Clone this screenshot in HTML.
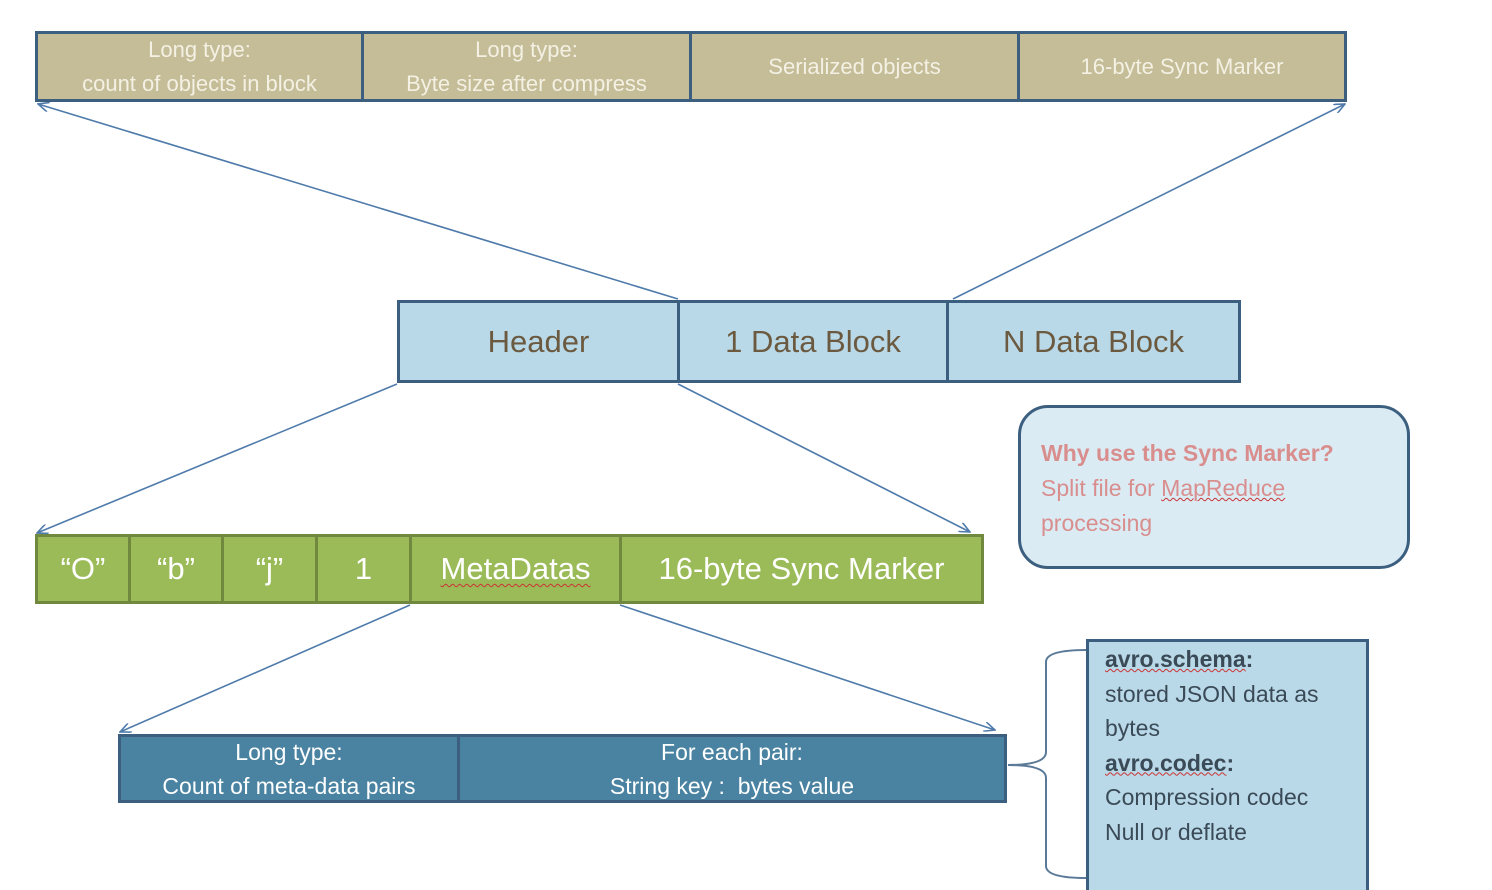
<!DOCTYPE html>
<html style="overflow:hidden;width:1492px;height:890px"><head><meta charset="utf-8"><style>
body{margin:0;width:1492px;height:890px;background:#fff;overflow:hidden;position:relative;font-family:"Liberation Sans",sans-serif}
.b{position:absolute;box-sizing:border-box;display:flex;align-items:center;justify-content:center;text-align:center}
.t{background:#c4bd97;border:3px solid #3c5f80;color:#f4f1e4;font-size:22px;line-height:34px}
.m{background:#b9d9e8;border:3px solid #3c5f80;color:#6b5a40;font-size:31px}
.g{background:#9bbb59;border:3px solid #71893f;color:#fff;font-size:31px}
.d{background:#4a83a2;border:3px solid #3c5f80;color:#fff;font-size:23px;line-height:34px}
</style></head><body>
<div class="b t" style="left:35px;top:31px;width:329px;height:71px">Long type:<br>count of objects in block</div>
<div class="b t" style="left:361px;top:31px;width:331px;height:71px">Long type:<br>Byte size after compress</div>
<div class="b t" style="left:689px;top:31px;width:331px;height:71px">Serialized objects</div>
<div class="b t" style="left:1017px;top:31px;width:330px;height:71px">16-byte Sync Marker</div>

<div class="b m" style="left:397px;top:300px;width:283px;height:83px">Header</div>
<div class="b m" style="left:677px;top:300px;width:272px;height:83px">1 Data Block</div>
<div class="b m" style="left:946px;top:300px;width:295px;height:83px">N Data Block</div>

<div class="b g" style="left:35px;top:534px;width:96px;height:70px">“O”</div>
<div class="b g" style="left:128px;top:534px;width:96px;height:70px">“b”</div>
<div class="b g" style="left:221px;top:534px;width:97px;height:70px">“j”</div>
<div class="b g" style="left:315px;top:534px;width:97px;height:70px">1</div>
<div class="b g" style="left:409px;top:534px;width:213px;height:70px"><span style="text-decoration:underline wavy #c33;text-underline-offset:4px;text-decoration-thickness:1px">MetaDatas</span></div>
<div class="b g" style="left:619px;top:534px;width:365px;height:70px">16-byte Sync Marker</div>

<div class="b d" style="left:118px;top:734px;width:342px;height:69px">Long type:<br>Count of meta-data pairs</div>
<div class="b d" style="left:457px;top:734px;width:550px;height:69px">For each pair:<br>String key :&nbsp; bytes value</div>

<div style="position:absolute;left:1018px;top:405px;width:392px;height:164px;box-sizing:border-box;border:3px solid #3c5f80;border-radius:30px;background:#dbebf4;padding:28px 0 0 20px;color:#d98e8e;font-size:23px;line-height:35px">
<b>Why use the Sync Marker?</b><br>Split file for <span style="text-decoration:underline wavy #c33;text-decoration-thickness:1px">MapReduce</span><br>processing</div>

<div style="position:absolute;left:1086px;top:639px;width:283px;height:251px;box-sizing:border-box;border:3px solid #3c5f80;border-bottom:none;background:#b9d9e8;padding:0 0 0 16px;color:#3b4a57;font-size:23px;line-height:34.5px;overflow:hidden">
<b><span style="text-decoration:underline wavy #c33;text-decoration-thickness:1px">avro.schema</span>:</b><br>stored JSON data as<br>bytes<br><b><span style="text-decoration:underline wavy #c33;text-decoration-thickness:1px">avro.codec</span>:</b><br>Compression codec<br>Null or deflate</div>

<svg width="1492" height="890" style="position:absolute;left:0;top:0" fill="none" stroke="#4f7bab" stroke-width="1.6">
<defs><marker id="a" markerWidth="12" markerHeight="10" refX="11" refY="5" orient="auto" markerUnits="userSpaceOnUse"><path d="M0,0 L11,5 L0,10" stroke="#4f7bab" fill="none"/></marker></defs>
<line x1="678" y1="299" x2="38" y2="104" marker-end="url(#a)"/>
<line x1="953" y1="299" x2="1345" y2="104" marker-end="url(#a)"/>
<line x1="397" y1="384" x2="37" y2="533" marker-end="url(#a)"/>
<line x1="678" y1="384" x2="970" y2="532" marker-end="url(#a)"/>
<line x1="410" y1="605" x2="120" y2="732" marker-end="url(#a)"/>
<line x1="620" y1="605" x2="995" y2="730" marker-end="url(#a)"/>
<path d="M1086,650 Q1046,650 1046,662 L1046,752 Q1046,765 1008,765 Q1046,765 1046,778 L1046,866 Q1046,878 1086,878" stroke="#5a7a98" stroke-width="2"/>
</svg>
</body></html>
